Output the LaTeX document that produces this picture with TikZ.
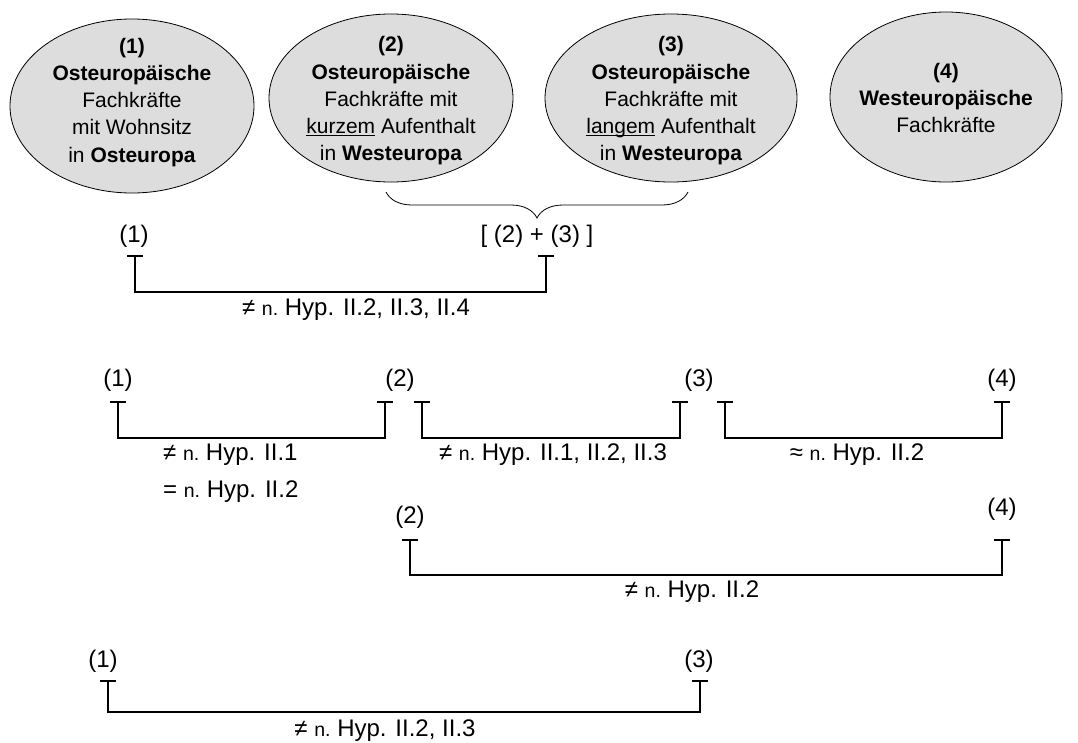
\documentclass[tikz,border=0pt]{standalone}
\usepackage{fontspec}
\setmainfont{Liberation Sans}
\usetikzlibrary{shapes.geometric,decorations.pathreplacing}
\definecolor{ellfill}{RGB}{221,221,221}
\newcommand{\myul}[1]{\setbox0\hbox{#1}\rlap{\rule[-3pt]{\wd0}{1.3pt}}\box0\relax}
\newcommand{\nsm}{{\fontsize{19.5}{19.5}\selectfont n.}}
\begin{document}
\begin{tikzpicture}[x=1pt,y=-1pt,
  ell/.style={ellipse,draw=black,line width=0.8pt,fill=ellfill,inner sep=0pt},
  et/.style={anchor=base,inner sep=0pt,font=\fontsize{21}{25}\selectfont},
  lb/.style={inner sep=0pt,font=\fontsize{24}{28}\selectfont},
  brk/.style={line width=1.8pt},
  tbar/.style={line width=1.8pt},
]
\useasboundingbox (0,0) rectangle (1078,742);
% ellipses
\node[ell,minimum width=244pt,minimum height=174pt] (e1) at (132,106) {};
\node[ell,minimum width=244pt,minimum height=168pt] (e2) at (391,98) {};
\node[ell,minimum width=252pt,minimum height=168pt] (e3) at (671,98) {};
\node[ell,minimum width=232pt,minimum height=170pt] (e4) at (946,97) {};
% ellipse 1 text
\node[et] (e1a) at (132,53) {\textbf{(1)}};
\node[et] (e1b) at (132,80) {\textbf{Osteuropäische}};
\node[et] (e1c) at (132,107) {Fachkräfte};
\node[et] (e1d) at (132,134) {mit Wohnsitz};
\node[et] (e1e) at (132,162) {in \textbf{Osteuropa}};
% ellipse 2 text
\node[et] (e2a) at (391,51) {\textbf{(2)}};
\node[et] (e2b) at (391,79) {\textbf{Osteuropäische}};
\node[et] (e2c) at (391,106) {Fachkräfte mit};
\node[et] (e2d) at (391,133) {\myul{kurzem} Aufenthalt};
\node[et] (e2e) at (391,160) {in \textbf{Westeuropa}};
% ellipse 3 text
\node[et] (e3a) at (671,51) {\textbf{(3)}};
\node[et] (e3b) at (671,79) {\textbf{Osteuropäische}};
\node[et] (e3c) at (671,106) {Fachkräfte mit};
\node[et] (e3d) at (671,133) {\myul{langem} Aufenthalt};
\node[et] (e3e) at (671,160) {in \textbf{Westeuropa}};
% ellipse 4 text
\node[et] (e4a) at (946,78) {\textbf{(4)}};
\node[et] (e4b) at (946,105) {\textbf{Westeuropäische}};
\node[et] (e4c) at (946,132) {Fachkräfte};
% brace
\coordinate (brl) at (386,192);
\coordinate (brr) at (688,192);
\draw[line width=0.8pt,decorate,decoration={brace,mirror,amplitude=26pt}] (brl) -- (brr);
% row 1
\node[lb] (r1l) at (134,236) {(1)};
\node[lb] (r1r) at (537,236) {[ (2) + (3) ]};
\coordinate (r1a) at (135,256);
\coordinate (r1b) at (546,256);
\draw[tbar] ([xshift=-8pt]r1a) -- ([xshift=8pt]r1a);
\draw[tbar] ([xshift=-8pt]r1b) -- ([xshift=8pt]r1b);
\draw[brk] (r1a) -- ++(0,36) -| (r1b);
\node[lb] (r1t) at (356,310) {≠ \nsm\ Hyp. II.2, II.3, II.4};
% row 2
\node[lb] (r2n1) at (118,380) {(1)};
\node[lb] (r2n2) at (400,380) {(2)};
\node[lb] (r2n3) at (699,380) {(3)};
\node[lb] (r2n4) at (1002,380) {(4)};
\coordinate (r2a) at (118,402);
\coordinate (r2b) at (385,402);
\coordinate (r2c) at (422,402);
\coordinate (r2d) at (680,402);
\coordinate (r2e) at (725,402);
\coordinate (r2f) at (1002,402);
\foreach \c in {r2a,r2b,r2c,r2d,r2e,r2f}{
  \draw[tbar] ([xshift=-8pt]\c) -- ([xshift=8pt]\c);
}
\draw[brk] (r2a) -- ++(0,36) -| (r2b);
\draw[brk] (r2c) -- ++(0,36) -| (r2d);
\draw[brk] (r2e) -- ++(0,36) -| (r2f);
\node[lb,anchor=west] (r2t1) at (163,455) {≠ \nsm\ Hyp. II.1};
\node[lb,anchor=west] (r2t1b) at (163,492) {= \nsm\ Hyp. II.2};
\node[lb] (r2t2) at (553,455) {≠ \nsm\ Hyp. II.1, II.2, II.3};
\node[lb] (r2t3) at (857,455) {≈ \nsm\ Hyp. II.2};
% row 3
\node[lb] (r3n2) at (410,517) {(2)};
\node[lb] (r3n4) at (1002,509) {(4)};
\coordinate (r3a) at (410,540);
\coordinate (r3b) at (1002,540);
\draw[tbar] ([xshift=-8pt]r3a) -- ([xshift=8pt]r3a);
\draw[tbar] ([xshift=-8pt]r3b) -- ([xshift=8pt]r3b);
\draw[brk] (r3a) -- ++(0,35) -| (r3b);
\node[lb] (r3t) at (692,592) {≠ \nsm\ Hyp. II.2};
% row 4
\node[lb] (r4n1) at (103,661) {(1)};
\node[lb] (r4n3) at (699,661) {(3)};
\coordinate (r4a) at (108,681);
\coordinate (r4b) at (700,681);
\draw[tbar] ([xshift=-8pt]r4a) -- ([xshift=8pt]r4a);
\draw[tbar] ([xshift=-8pt]r4b) -- ([xshift=8pt]r4b);
\draw[brk] (r4a) -- ++(0,31) -| (r4b);
\node[lb] (r4t) at (385,731) {≠ \nsm\ Hyp. II.2, II.3};
\end{tikzpicture}
\end{document}
